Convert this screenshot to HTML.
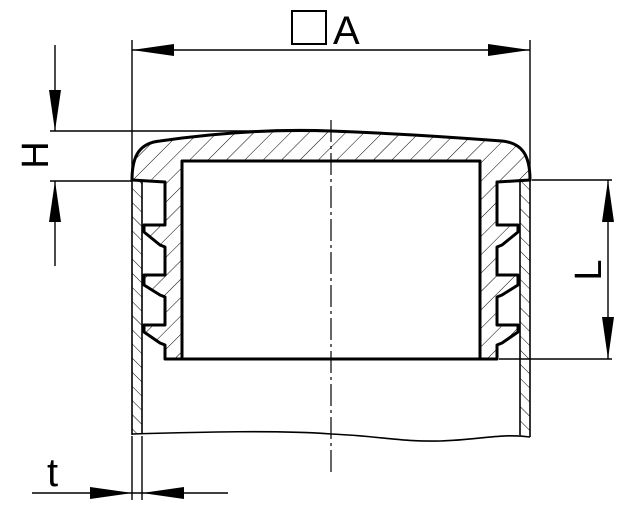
<!DOCTYPE html>
<html><head><style>html,body{margin:0;padding:0;background:#fff}svg{display:block}</style></head>
<body>
<svg width="630" height="517" viewBox="0 0 630 517" xmlns="http://www.w3.org/2000/svg">
<defs>
<pattern id="h1" patternUnits="userSpaceOnUse" width="13" height="13" patternTransform="rotate(45)">
<line x1="0" y1="0" x2="0" y2="13" stroke="#000" stroke-width="1"/></pattern>
<pattern id="h2" patternUnits="userSpaceOnUse" width="10" height="10" patternTransform="rotate(-45)">
<line x1="0" y1="0" x2="0" y2="10" stroke="#000" stroke-width="1"/></pattern>
</defs>
<!-- tube walls -->
<rect x="132" y="182" width="10" height="251" fill="url(#h2)"/>
<rect x="520" y="182" width="10" height="254" fill="url(#h2)"/>
<g stroke="#000" stroke-width="1.6" fill="none">
<line x1="132" y1="180" x2="132" y2="435"/><line x1="142" y1="180" x2="142" y2="434"/>
<line x1="520" y1="180" x2="520" y2="435"/><line x1="530" y1="180" x2="530" y2="437"/>
<path d="M132,434 C200,432 280,430 331,434 C380,436 400,442 440,441 C480,440 500,433 530,437"/>
</g>
<!-- cap -->
<path fill="url(#h1)" fill-rule="evenodd" stroke="#000" stroke-width="3" stroke-linejoin="round"
d="M132,180 C132,155 140,143 160,141 Q250,128 331,131 Q412,134 502,141 C522,143 530,155 530,180 L497,182 L497,225 L518,225 L518,232 L502,245 L497,247 L497,275 L518,275 L518,285 L502,295 L497,297 L497,325 L518,325 L518,332 L502,343 L497,345 L497,359 L165,359 L165,345 L160,343 L144,332 L144,325 L165,325 L165,297 L160,295 L144,285 L144,275 L165,275 L165,247 L160,245 L144,232 L144,225 L165,225 L165,182 Z M182,161 L480,161 L480,359 L182,359 Z"/>
<!-- center line -->
<line x1="331" y1="120" x2="331" y2="472" stroke="#000" stroke-width="1.2" stroke-dasharray="22,4,3,4"/>
<g stroke="#000" stroke-width="1.4" fill="none">
<!-- A dimension -->
<line x1="132" y1="40" x2="132" y2="180"/><line x1="530" y1="40" x2="530" y2="180"/>
<line x1="132" y1="50" x2="530" y2="50"/>
<!-- H -->
<line x1="50" y1="131" x2="331" y2="131"/><line x1="50" y1="181" x2="132" y2="181"/>
<line x1="55" y1="45" x2="55" y2="131"/><line x1="55" y1="181" x2="55" y2="266"/>
<!-- L -->
<line x1="532" y1="180" x2="612" y2="180"/><line x1="499" y1="359" x2="612" y2="359"/>
<line x1="608" y1="180" x2="608" y2="359"/>
<!-- t -->
<line x1="132" y1="436" x2="132" y2="500"/><line x1="142" y1="436" x2="142" y2="500"/>
<line x1="32" y1="493" x2="228" y2="493"/>
</g>
<g fill="#000">
<polygon points="132,50 174,44 174,56"/><polygon points="530,50 488,44 488,56"/>
<polygon points="55,131 49,90 61,90"/><polygon points="55,181 49,222 61,222"/>
<polygon points="608,180 602,222 614,222"/><polygon points="608,359 602,317 614,317"/>
<polygon points="132,493 90,487 90,499"/><polygon points="142,493 184,487 184,499"/>
</g>
<!-- labels -->
<rect x="292" y="11" width="34" height="33" fill="none" stroke="#000" stroke-width="2"/>
<text x="333" y="44" font-family="Liberation Sans, sans-serif" font-size="40" >A</text>
<text transform="translate(48,155) rotate(-90)" text-anchor="middle" font-family="Liberation Sans, sans-serif" font-size="38">H</text>
<text transform="translate(601,270) rotate(-90)" text-anchor="middle" font-family="Liberation Sans, sans-serif" font-size="38">L</text>
<text x="47" y="486" font-family="Liberation Sans, sans-serif" font-size="40">t</text>
</svg>
</body></html>
